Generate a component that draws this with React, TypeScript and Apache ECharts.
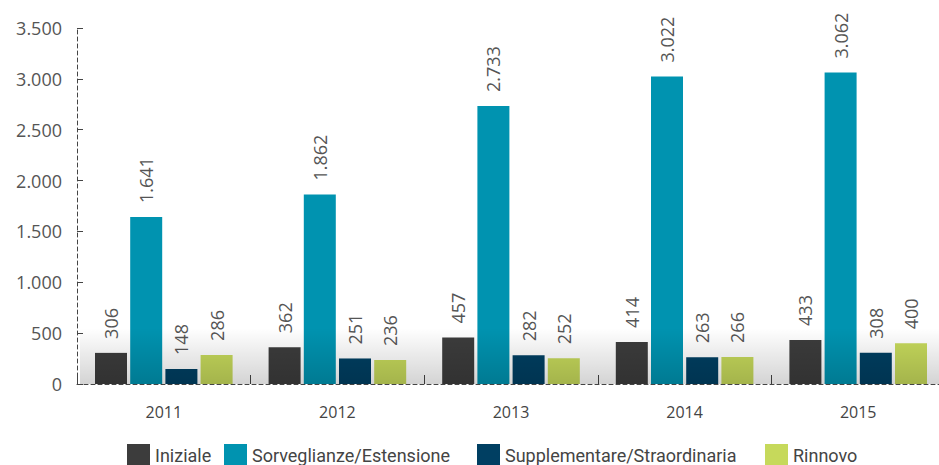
import React, { useEffect, useRef } from "react";
import * as echarts from "echarts";

const years = ["2011", "2012", "2013", "2014", "2015"];
const iniziale = [306, 362, 457, 414, 433];
const sorveglianze = [1641, 1862, 2733, 3022, 3062];
const supplementare = [148, 251, 282, 263, 308];
const rinnovo = [286, 236, 252, 266, 400];
const seriesNames = ["Iniziale", "Sorveglianze/Estensione", "Supplementare/Straordinaria", "Rinnovo"];
const colors = ["#3c3c3c", "#0093b0", "#003f62", "#c6d95b"];
const legendLefts = [127, 224, 477, 765];

const fmt = (v: number) => String(v).replace(/\B(?=(\d{3})+(?!\d))/g, ".");
const FONT = "Open Sans";
const LEGEND_FONT = "Roboto";

export default function App() {
  const ref = useRef<HTMLDivElement>(null);
  useEffect(() => {
    if (!ref.current) return;
    const chart = echarts.init(ref.current, undefined, { renderer: "svg" });
    const datas = [iniziale, sorveglianze, supplementare, rinnovo];
    chart.setOption({
      animation: false,
      textStyle: { fontFamily: FONT },
      grid: { left: 77, top: 28, right: -6, bottom: 81, containLabel: false, outerBoundsMode: "none" },
      legend: seriesNames.map((n, i) => ({
        left: legendLefts[i],
        top: 444,
        padding: 0,
        itemWidth: 23,
        itemHeight: 23,
        itemGap: 0,
        icon: "rect",
        textStyle: { fontSize: 18, lineHeight: 18, color: "#444", fontFamily: LEGEND_FONT },
        data: [n],
      })),
      xAxis: {
        type: "category",
        data: years,
        axisLine: { show: true, lineStyle: { color: "#444", type: [4, 3], width: 1 } },
        axisTick: { show: true, inside: true, length: 9, lineStyle: { color: "#444" } },
        axisLabel: { fontSize: 16, color: "#444", margin: 20 },
      },
      yAxis: {
        type: "value",
        min: 0,
        max: 3500,
        interval: 500,
        axisLine: { show: true, lineStyle: { color: "#444", type: [4, 3], width: 1 } },
        axisTick: { show: true, inside: true, length: 6, lineStyle: { color: "#444" } },
        splitLine: { show: false },
        axisLabel: { fontSize: 18, color: "#555", margin: 15, formatter: (v: number) => fmt(v) },
      },
      graphic: [
        {
          type: "rect",
          z: 100,
          silent: true,
          shape: { x: 80, y: 328, width: 860, height: 56 },
          style: {
            fill: new echarts.graphic.LinearGradient(0, 0, 0, 1, [
              { offset: 0, color: "rgba(0,0,0,0)" },
              { offset: 1, color: "rgba(0,0,0,0.17)" },
            ]),
          },
        },
      ],
      series: datas.map((d, i) => ({
        name: seriesNames[i],
        type: "bar",
        data: d,
        barWidth: 32,
        barGap: "10%",
        itemStyle: { color: colors[i] },
        label: {
          show: true,
          position: "top",
          rotate: 90,
          align: "left",
          verticalAlign: "middle",
          distance: 14,
          fontSize: 18,
          color: "#555",
          fontFamily: FONT,
          formatter: (p: any) => fmt(p.value),
        },
      })),
    });
    return () => chart.dispose();
  }, []);
  return (
    <div
      ref={ref}
      style={{ position: "absolute", left: 0, top: 0, width: 939, height: 465, background: "#fff" }}
    />
  );
}
